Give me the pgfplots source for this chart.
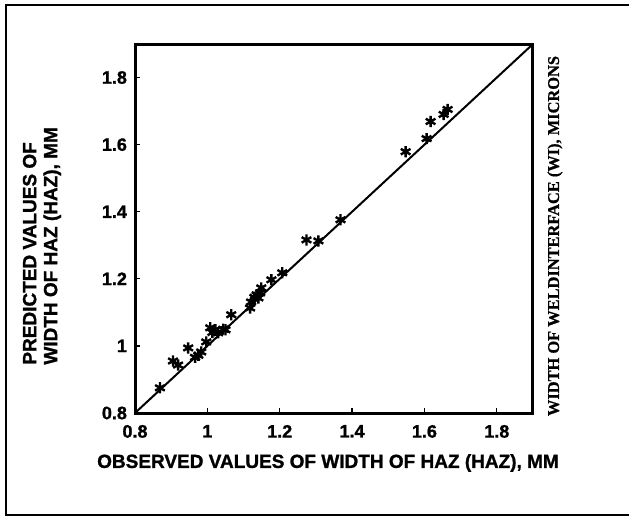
\documentclass[border=0pt]{standalone}
\usepackage{fontspec}
\setmainfont{Liberation Sans}
\newfontfamily\heavy{Liberation Sans Bold}[FakeBold=1.2]
\newfontfamily\timesfont{Liberation Serif Bold}[FakeBold=0.8]
\usepackage{pgfplots}
\pgfplotsset{compat=1.18}

% 1 px of the 629x516 reference = 0.5pt
\begin{document}
\begin{tikzpicture}[x=0.5pt,y=0.5pt]
\useasboundingbox (0,0) rectangle (629,516);
% outer frame (left, top, bottom)
\draw[line width=1pt] (629,511) -- (6,511) -- (6,1) -- (629,1);

\begin{axis}[
    at={(67.5pt,51.5pt)}, anchor=south west,
    scale only axis,
    width=199pt, height=184.5pt,
    xmin=0.8, xmax=1.9, ymin=0.8, ymax=1.9,
    xtick={0.8,1,1.2,1.4,1.6,1.8},
    ytick={0.8,1,1.2,1.4,1.6,1.8},
    xtick pos=bottom, ytick pos=left,
    tick align=inside,
    major tick length=2.5pt,
    every tick/.style={black, line width=0.6pt},
    axis line style={line width=1.5pt},
    /pgf/number format/assume math mode=true,
    ticklabel style={font=\fontsize{9}{10}\selectfont\heavy},
    xticklabel style={yshift=-2.5pt},
    yticklabel style={xshift=-0.5pt},
    clip=true,
]
\addplot[no marks, line width=1pt] coordinates {(0.8,0.8) (1.9,1.9)};
\addplot[only marks, mark=asterisk, mark size=2.8pt,
         mark options={line width=1.2pt}] coordinates {
    (0.869,0.875) (0.905,0.955) (0.919,0.943) (0.947,0.994)
    (0.966,0.966) (0.975,0.972) (0.983,0.982) (0.997,1.012)
    (1.008,1.054) (1.014,1.040) (1.022,1.048) (1.030,1.039)
    (1.044,1.050) (1.050,1.048) (1.066,1.093)
    (1.118,1.113) (1.121,1.131) (1.130,1.145) (1.136,1.152)
    (1.141,1.143) (1.149,1.173) (1.146,1.158)
    (1.177,1.197) (1.207,1.218)
    (1.274,1.316) (1.307,1.313) (1.368,1.376)
    (1.548,1.579) (1.606,1.618) (1.617,1.669)
    (1.653,1.690) (1.664,1.705)
};
\end{axis}

% axis labels
\node[font=\fontsize{9.5}{10.5}\selectfont\heavy, inner sep=0]
    at (328,53) {OBSERVED VALUES OF WIDTH OF HAZ (HAZ), MM};
\node[font=\fontsize{9.5}{10.5}\selectfont\heavy, inner sep=0,
      rotate=90, anchor=west, align=left]
    at (42,151) {PREDICTED VALUES OF\\WIDTH OF HAZ (HAZ), MM};
\node[font=\fontsize{8.2}{9}\selectfont\timesfont, inner sep=0,
      rotate=90]
    at (555,280) {WIDTH OF WELDINTERFACE (WI), MICRONS};
\end{tikzpicture}
\end{document}
